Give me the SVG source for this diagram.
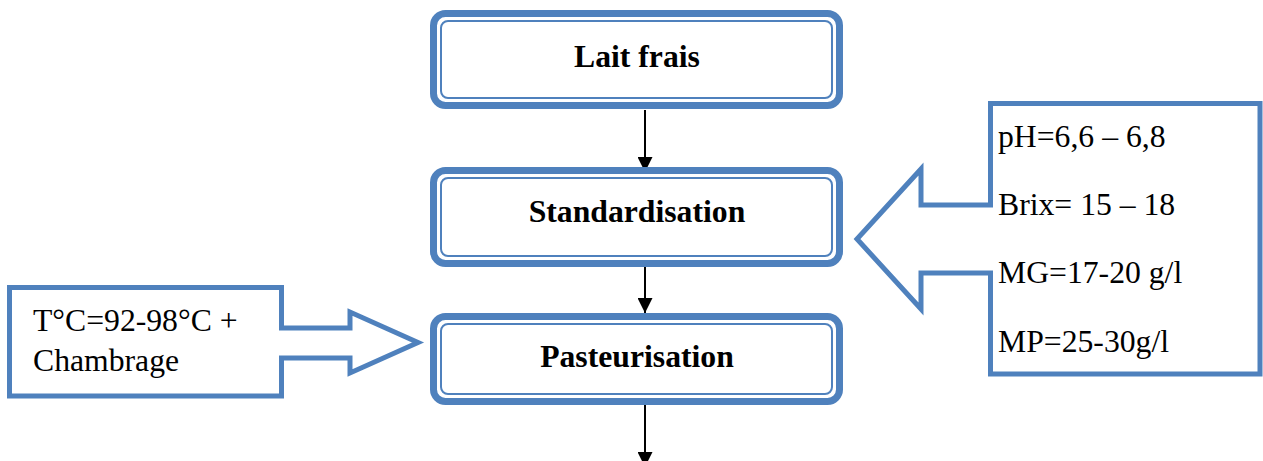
<svg xmlns="http://www.w3.org/2000/svg" width="1263" height="461" viewBox="0 0 1263 461">
<style>
.outer{fill:#fff;stroke:#4F81BD;stroke-width:7}
.inner{fill:none;stroke:#4F81BD;stroke-width:2}
.call{fill:#fff;stroke:#4F81BD;stroke-width:5;stroke-linejoin:miter}
.t{font-family:"Liberation Serif","Times New Roman",serif;font-size:31.7px;fill:#000}
.b{font-weight:bold;text-anchor:middle}
.conn{stroke:#000;stroke-width:2;fill:none}
</style>
<defs>
<marker id="ah" markerWidth="16" markerHeight="15" refX="16" refY="8" orient="auto" markerUnits="userSpaceOnUse" viewBox="0 0 16 16">
<path d="M0,0 L16,8 L0,16 Z" fill="#000"/>
</marker>
</defs>
<g id="connectors">
<line class="conn" x1="645" y1="110" x2="645" y2="172" marker-end="url(#ah)"/>
<line class="conn" x1="645" y1="267" x2="645" y2="313" marker-end="url(#ah)"/>
<line class="conn" x1="645" y1="405" x2="645" y2="467" marker-end="url(#ah)"/>
</g>
<g id="lait-frais">
<rect class="outer" x="433.5" y="13.5" width="406" height="92" rx="12"/>
<rect class="inner" x="441" y="21" width="391" height="77" rx="7"/>
<text class="t b" x="637" y="67">Lait frais</text>
</g>
<g id="standardisation">
<rect class="outer" x="433.5" y="170.5" width="406" height="93" rx="12"/>
<rect class="inner" x="441" y="178" width="391" height="78" rx="7"/>
<text class="t b" x="637" y="222">Standardisation</text>
</g>
<g id="pasteurisation">
<rect class="outer" x="433.5" y="316.5" width="406" height="85" rx="12"/>
<rect class="inner" x="441" y="324" width="391" height="70" rx="7"/>
<text class="t b" x="637" y="367">Pasteurisation</text>
</g>
<g id="parametres">
<path class="call" d="M990.5,103.5 L1260,103.5 L1260,374 L990.5,374 L990.5,273 L921,273 L921,309 L857,239 L921,169 L921,205 L990.5,205 Z"/>
<text class="t" x="998" y="147">pH=6,6 – 6,8</text>
<text class="t" x="998" y="215">Brix= 15 – 18</text>
<text class="t" x="998" y="283">MG=17-20 g/l</text>
<text class="t" x="998" y="352">MP=25-30g/l</text>
</g>
<g id="traitement">
<path class="call" d="M9.5,287.5 L281.5,287.5 L281.5,328 L350,328 L350,312 L418,342.5 L350,373 L350,358 L281.5,358 L281.5,396 L9.5,396 Z"/>
<text class="t" x="33" y="331">T°C=92-98°C +</text>
<text class="t" x="33" y="371">Chambrage</text>
</g>
</svg>
